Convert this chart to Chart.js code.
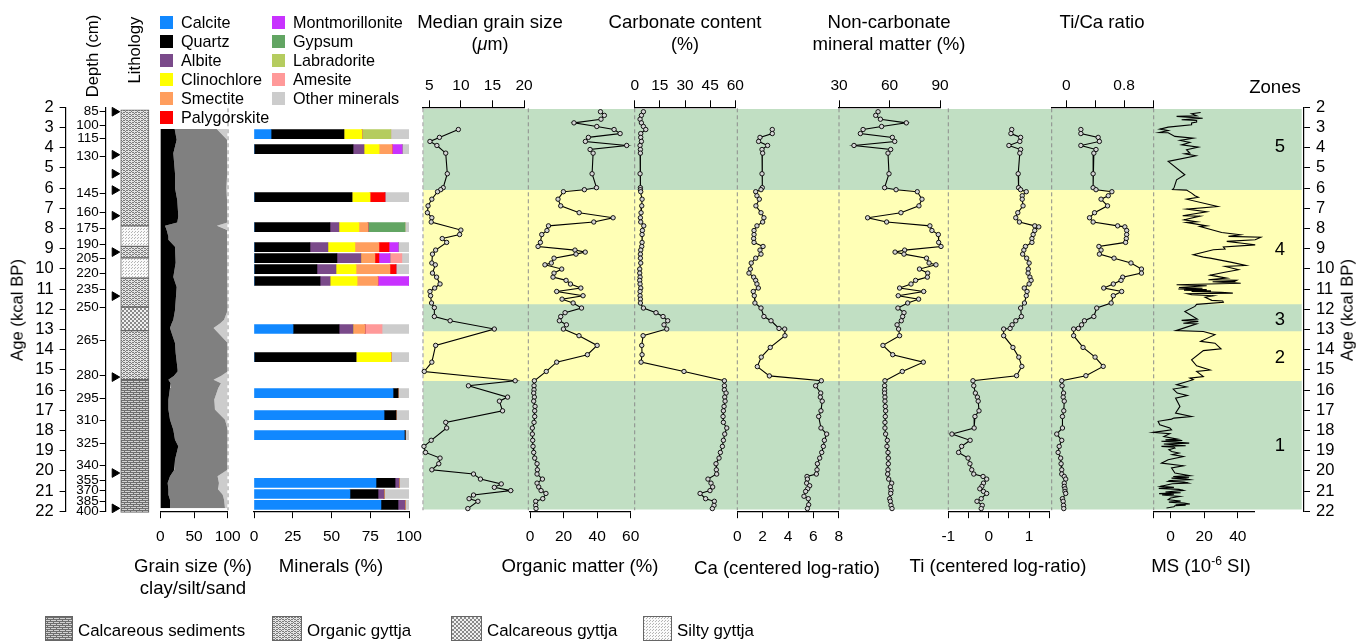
<!DOCTYPE html>
<html>
<head>
<meta charset="utf-8">
<title>Sediment core</title>
<script src="https://cdn.jsdelivr.net/npm/chart.js@4"></script>
<style>
  html, body { margin: 0; padding: 0; background: #fff; }
  #page { position: relative; width: 1365px; height: 642px; overflow: hidden; font-family: "Liberation Sans", sans-serif; color: #000; }
  canvas { position: absolute; left: 0; top: 0; }
  .t { position: absolute; white-space: nowrap; line-height: 1; }
  .t sup { font-size: 65%; line-height: 0; }
  .box { position: absolute; }
</style>
</head>
<body>
<div id="page"></div>
<script>
// ages in kcal BP, shared by several proxies
const coreAges = [2.22,2.40,2.59,2.77,2.95,3.10,3.30,3.49,3.69,3.89,
  4.09,4.27,5.29,5.98,6.08,6.18,6.55,6.88,7.22,7.47,
  7.68,7.87,8.10,8.30,8.69,8.89,9.07,9.17,9.27,9.47,
  9.71,9.80,10.01,10.21,10.41,10.57,10.75,10.95,11.12,11.33,
  11.50,11.69,11.94,12.17,12.36,12.57,12.77,12.98,13.31,13.79,
  14.25,14.62,15.08,15.54,15.79,15.99,16.15,16.35,16.55,16.81,
  17.03,17.31,17.60,17.88,18.18,18.49,18.79,19.09,19.37,19.65,
  19.95,20.16,20.41,20.61,20.80,20.98,21.12,21.38,21.51,21.71,21.87];

const medianAges = [3.10,3.49,3.69,3.89,4.27,5.29,5.98,6.08,6.18,6.55,
  6.88,7.22,7.47,7.68,8.08,8.30,8.50,8.69,9.07,9.27,
  9.71,9.80,10.21,10.41,10.75,10.95,11.12,11.33,11.69,11.92,
  12.36,12.57,12.98,13.79,14.62,15.08,15.54,15.79,16.35,16.55,
  17.03,17.60,17.88,18.49,18.79,19.09,19.37,19.65,19.95,20.16,
  20.41,20.65,20.82,20.98,21.2,21.38,21.51,21.87];
const medianGrain = [9.6,6.6,5.1,6.2,7.6,7.85,7.2,6.8,6.3,5.4,
  4.8,4.7,5.4,5.3,10.0,9.8,7.05,7.75,6.0,5.5,
  5.4,5.95,5.5,6.15,6.7,5.85,5.1,5.2,5.35,5.8,
  5.8,8.3,15.3,6.0,5.4,4.2,18.6,11.2,17.4,16.1,
  16.6,7.6,7.75,5.3,4.15,4.4,6.7,6.5,5.4,12.0,
  13.1,16.4,15.3,17.9,12,11.3,12.7,11.1];

const organicMatter = [42,44.3,42.3,26.2,39.8,50.1,53.7,34.8,33,57.6,
  35.8,37.6,37,39.6,32.4,19.9,16.7,18.3,29.3,49.5,
  38,11,10.1,7,6.2,4.8,26.8,32.9,27.4,14.3,
  12.7,8.9,18.9,14.3,13.7,21.5,24.1,30.3,15.9,31.6,
  19.1,25.7,30.7,20.9,18.3,17.5,21.7,19.9,29.2,40,
  34.2,15.9,9.7,2.6,2.4,2.4,2.2,2.6,2.2,3,
  2.8,2.8,2.4,1.4,1.4,1.6,1.8,2.2,2.8,4.2,
  4.4,4.2,7.4,4.2,5.2,6.6,9.5,7.6,3.4,3.4,3.6];

const nonCarbonate = [53.2,51.8,54.6,70,55.3,44.3,42.7,61.7,63.1,38.9,
  60.7,59.1,59.7,57.1,63.9,76.5,79.3,77.5,66.8,47,
  58.3,84,85.2,89,89.2,90.6,69,63.3,68.6,82,
  83.5,87.6,77.8,82.7,82.5,75.5,72.8,66,80.3,65.2,
  77.3,70.8,65,68.6,67.8,67,64.5,65.4,66,56.1,
  61.9,80.1,67.6,57.3,57.1,57.1,57.1,57.3,57.3,57.5,
  57.7,57.5,57.3,57.3,57.7,58.7,58.5,59.1,59.3,59.3,
  59.1,58.9,59.5,61.3,60.5,60.9,60.7,60.1,60.5,60.9,61.5];

const carbonateAges = [2.22,2.40,2.59,2.77,2.95,3.10,3.30,3.49,3.69,3.89,
  4.09,4.27,5.29,5.98,6.08,6.18,6.55,6.88,7.22,7.47,
  7.68,7.87,8.10,8.30,8.69,8.89,9.07,9.27,9.47,9.71,
  10.01,10.21,10.41,10.57,10.75,10.95,11.12,11.33,11.50,11.69,
  11.94,12.17,12.36,12.57,12.77,12.98,13.31,13.79,14.25,14.62,
  15.08,15.54,15.79,15.99,16.15,16.35,16.55,16.81,17.03,17.31,
  17.60,17.88,18.18,18.49,18.79,19.09,19.37,19.65,19.95,20.16,
  20.41,20.61,20.80,20.98,21.12,21.38,21.51,21.71,21.87];
const carbonate = [5.2,4,3.2,4,5.2,6.6,3.6,3.6,4,3.2,
  3.4,3.4,3.2,3.4,3.4,3.6,4.4,4.2,3.8,3.4,
  3.6,5.4,4.6,4.4,4.4,4.2,3.6,3.4,3.4,3.6,
  3,3,3.2,3,3.2,3.6,3.2,3.2,3.4,3.4,
  5.2,12.7,16.9,19.7,17.5,19.1,5,4.2,4.4,3.8,
  29.4,53.5,53.5,53.5,54.5,53.7,53.9,53.3,52.9,52.7,
  52.9,54.9,53.7,52.9,52.3,51.1,50.3,48.5,48.7,48.9,
  43.7,45.5,46.5,44.9,39,42.3,47.5,47.3,46.3];

const caAges = [3.10,3.30,3.49,3.69,3.89,4.09,4.27,5.29,5.98,6.08,
  6.18,6.38,6.55,6.88,7.22,7.47,7.68,7.87,8.10,8.30,
  8.50,8.69,8.89,9.07,9.27,9.47,9.71,10.01,10.21,10.41,
  10.57,10.75,10.95,11.12,11.33,11.69,11.94,12.36,12.57,12.95,
  12.98,13.31,13.89,14.37,14.84,15.30,15.54,15.79,16.15,16.35,
  16.55,17.03,17.31,17.88,18.18,18.49,18.79,19.09,19.37,19.65,
  19.95,20.16,20.28,20.41,20.61,20.74,20.89,21.02,21.26,21.38,
  21.68,21.87];
const caRatio = [2.76,2.76,1.79,1.68,2.39,1.95,2.0,1.95,1.97,1.87,
  1.45,1.55,1.74,1.47,1.87,2.1,2.0,1.55,1.32,1.32,
  1.29,1.32,2.03,1.79,1.87,1.45,1.1,1.03,0.92,1.29,
  1.45,1.55,1.66,1.26,1.34,1.39,1.87,2.1,2.66,3.29,
  3.74,3.76,2.6,1.89,1.58,2.53,6.63,6.18,6.58,6.55,
  6.7,6.6,6.42,6.6,7.05,6.87,6.79,6.66,6.5,6.32,
  6.29,6.24,5.5,5.53,5.47,5.71,5.55,5.39,5.26,5.6,
  5.63,5.53];

const tiAges = [3.10,3.30,3.49,3.69,3.89,4.09,4.27,5.29,5.98,6.08,
  6.18,6.38,6.55,6.88,7.22,7.47,7.68,7.87,7.92,8.10,
  8.30,8.50,8.69,8.89,9.07,9.27,9.47,9.71,10.01,10.21,
  10.41,10.57,10.75,10.95,11.12,11.33,11.69,11.94,12.36,12.57,
  12.77,12.95,12.98,13.31,13.89,14.37,14.83,15.29,15.54,15.79,
  16.15,16.35,16.55,17.03,17.31,17.88,18.18,18.49,18.79,19.09,
  19.37,19.65,19.95,20.16,20.28,20.41,20.61,20.77,20.89,21.02,
  21.12,21.38,21.51,21.71,21.87];
const tiRatio = [0.57,0.55,0.79,0.77,0.50,0.79,0.77,0.73,0.74,0.79,
  0.93,0.83,0.83,0.85,0.72,0.67,0.76,1.14,1.24,1.14,
  1.10,1.07,1.07,0.91,0.87,0.84,0.94,1.0,0.98,0.975,
  1.02,1.05,1.0,0.88,0.95,0.93,0.885,0.79,0.81,0.67,
  0.58,0.53,0.37,0.37,0.6,0.745,0.82,0.69,-0.39,-0.37,
  -0.33,-0.28,-0.26,-0.24,-0.34,-0.36,-0.91,-0.46,-0.67,-0.745,
  -0.51,-0.465,-0.42,-0.37,-0.14,-0.05,-0.13,-0.17,-0.22,-0.13,
  -0.05,-0.185,-0.29,-0.16,-0.185];
const tiCaRatio = [0.2,0.2,0.44,0.457,0.2,0.41,0.38,0.37,0.37,0.41,
  0.63,0.58,0.48,0.57,0.39,0.32,0.37,0.71,0.81,0.835,
  0.835,0.83,0.82,0.45,0.48,0.457,0.66,0.895,1.04,1.04,
  0.78,0.757,0.65,0.517,0.766,0.65,0.62,0.42,0.38,0.25,
  0.21,0.166,0.10,0.10,0.23,0.397,0.51,0.27,-0.065,-0.06,
  -0.04,-0.045,-0.03,-0.037,-0.055,-0.055,-0.134,-0.065,-0.1,-0.115,
  -0.08,-0.074,-0.065,-0.065,-0.03,-0.01,-0.03,-0.03,-0.02,-0.02,
  -0.01,-0.055,-0.045,-0.04,-0.037];

const msAges = [2.26,2.32,2.42,2.45,2.54,2.62,2.65,2.73,2.78,2.87,
  2.98,3.08,3.15,3.25,3.26,3.44,3.53,3.64,3.74,3.86,
  3.97,4.10,4.27,4.30,4.40,4.68,5.34,5.59,6.00,6.07,
  6.10,6.25,6.38,6.45,6.55,6.91,7.04,7.17,7.37,7.39,
  7.57,7.67,7.70,7.87,7.90,8.20,8.31,8.39,8.43,8.56,
  8.64,8.72,8.81,8.92,9.02,9.05,9.30,9.42,9.47,9.68,
  9.83,9.88,10.04,10.18,10.31,10.46,10.54,10.56,10.62,10.64,10.67,10.69,10.71,
  10.79,10.84,10.92,10.96,11.0,11.03,11.06,11.09,11.12,11.16,11.2,11.23,11.28,11.33,11.40,11.56,
  11.59,11.66,11.76,11.86,12.11,12.49,12.55,12.60,12.69,12.72,
  13.06,13.10,13.26,13.59,13.68,13.96,14.05,14.5,14.8,15.01,
  15.08,15.33,15.41,15.49,15.74,15.85,15.95,16.15,16.27,16.4,
  16.81,17.14,17.31,17.39,17.44,17.55,17.72,17.88,17.97,18.1,
  18.16,18.3,18.43,18.47,18.5,18.54,18.58,18.63,18.67,18.72,18.76,18.79,18.83,18.87,18.95,19.04,19.12,19.2,19.29,19.45,
  19.62,19.75,19.86,20.11,20.24,20.28,20.32,20.36,20.40,20.44,20.48,20.52,20.56,20.61,20.64,20.77,
  20.82,20.87,20.92,20.97,21.05,21.09,21.13,21.16,21.2,21.27,21.35,21.43,21.5,21.55,21.6,21.64,21.68,21.7,21.73,21.78,21.84];
const magSusc = [17.9,12.5,15.5,3.6,19.1,6.6,15.5,15.5,12.5,12.5,
  -1.4,-6.4,-1.4,-6.8,-1.4,2.6,13.5,5.6,11.5,6.6,
  16.5,9.5,11.5,8.5,15.1,-1.4,8.5,3.6,2,1.2,
  9.5,12.5,14.5,16.5,9.5,28,9.5,21.5,7.2,17.5,
  8,15.5,9.5,21.5,17.5,30.4,41.4,34.4,53.7,50.3,
  33.4,41.4,50.3,31.4,32.4,25.4,13.5,19.5,23.5,36.4,
  44.7,32.4,40.4,31.4,23.5,33.4,22.5,39.4,38,25,31.4,38,41.7,
  3.6,21.5,5,19,4.6,21.5,8,24,12.5,30,37,10,12.5,25.4,20.5,24.5,
  31,31.4,15.5,14.5,8.5,15.9,6.6,16.5,7.6,15.5,
  3.2,19.5,26.4,17.9,26.4,30,19.5,12.5,15.5,23.5,
  15.5,19.5,11.5,13.5,3.6,9.5,1.6,4,10,3,
  5.6,3,12.5,2,0.6,-7.4,-6.4,-0.4,0.6,-10.3,
  -0.4,-4,4,-3,7,-5.4,3,11.1,-4,3,9,-5.4,2,2.6,-1,0.6,5,1,7.6,-1.4,
  -5.4,7.6,0.6,2.6,11.5,1.6,11,0.6,9,11.5,0,-1.4,8,10.5,1,-6,
  2,-7,5,7.6,-3,6,-6.8,2,-5,5.6,0,-1.4,6,-1,8,11.5,3,9,2.6,2,-2.4];

// grain size, stacked clay/silt/sand
const grainAges = [3.08,3.61,4.27,5.26,6.0,6.6,7.4,7.7,7.87,8.07,8.4,8.56,8.9,9.7,10.4,10.9,12.05,12.52,12.69,12.93,13.18,13.67,14.17,15.0,15.08,15.3,15.49,15.66,15.9,16.48,16.97,17.47,17.97,18.46,18.79,19.45,19.95,20.27,20.6,20.93,21.18,21.43,21.85];
const clay = [21.3,24.3,19.3,21.8,21.8,25.2,26.7,25.2,7,9.4,12,12,21.8,22.8,19.3,24.3,21.8,19.3,17,14.4,16.8,21.8,22.8,25.7,25.7,20,12,15.3,14.4,12,12,14.4,19.3,21.8,26.7,21.8,20.8,14.4,10.9,12,12,14.4,14.4];
const silt = [62.4,74.7,80.2,77.2,76.2,73.8,73.3,73.8,77,89.6,88,88,78.2,77.2,80.7,75.7,78.2,75.3,72,64.6,69.2,78.2,77.2,74.3,73.3,70,67,74.7,71.6,68,69,81.6,80.7,78.2,73.3,77.2,78.2,70.6,76.1,74,80.6,80.2,81.6];
const sand = [16.3,1,0.5,1,2,1,0,1,16,1,0,0,0,0,0,0,0,5.4,11,21,14,0,0,0,1,10,21,10,14,20,19,4,0,0,0,1,1,15,13,14,7.4,5.4,4];

// mineral composition of the XRD samples
const mineralAges = [3.33,4.07,6.45,7.93,8.92,9.47,10.01,10.6,12.98,14.37,16.15,17.24,18.23,20.6,21.15,21.69];
const calcite =         [11,0,0,0,0,0,0,0,25.2,0,89.7,83.9,97,78.7,61.9,81.9];
const quartz =          [47,63.9,63.2,49,36.1,53.5,40.6,42.6,29.7,65.8,3.2,7.7,0.6,12.3,18.1,11];
const albite =          [0,7.1,0,5.8,11.6,15.5,12.3,6.5,9,0,0,0,0,2.6,3.9,4.5];
const clinochlore =     [11.6,9.7,11.6,12.9,17.4,0,12.9,17.4,0,22.6,0,0,0,0,0,0];
const smectite =        [0,8.4,0,5.8,15.5,9,21.9,13.5,7.7,0,0,0,0,0,0,0];
const palygorskite =    [0,0,9.7,0,6.5,2.6,3.9,0,0,0,0,0,0,0,0,0];
const montmorillonite = [0,6.5,0,0,6,7.1,0,20,0,0,0,0,0,0,0,0];
const gypsum =          [0,0,0,23.9,0,0,0,0,0,0,0,0,0,0,0,0];
const labradorite =     [18.7,0,0,0,0,0,0,0,0,0,0,0,0,0,0,0];
const amesite =         [0,0,0,0,0,7.7,0,0,11,0,0,0,0,0,0,0];
const otherMinerals =   [11.6,4.4,15.5,2.6,7.1,4.6,8.4,0,17.4,11.6,7.1,8.4,2.4,6.4,16.1,2.6];

const zoneNames = ['5','4','3','2','1'];
const zoneBounds = [[2.1,6.08],[6.08,11.74],[11.74,13.07],[13.07,15.54],[15.54,21.9]];
const zoneLabelAges = [3.95,9.05,12.55,14.4,18.75];

const ageTicks = [2,3,4,5,6,7,8,9,10,11,12,13,14,15,16,17,18,19,20,21,22];
const depthLabels = [85,100,115,130,145,160,175,190,205,220,235,250,265,280,295,310,325,340,355,370,385,400];
const depthAges = [2.22,2.88,3.56,4.43,6.25,7.19,8.01,8.77,9.47,10.21,11,11.9,13.56,15.28,16.43,17.52,18.66,19.73,20.46,20.97,21.51,22.01];
const datedAges = [2.22,4.35,5.29,6.1,7.37,9.17,11.35,15.36,20.11,21.86];

// lithology units: [from, to] in age
const organicUnits = [[2.12,7.87],[8.89,9.46],[10.46,11.89],[13.06,15.49]];
const siltyUnits = [[7.87,8.89],[9.46,10.46]];
const calcGyttjaUnits = [[11.89,13.06]];
const calcSedUnits = [[15.49,22.06]];

const PAGE_W = 1365, PAGE_H = 642, AGE_TOP = 107.3, AGE_BOTTOM = 511.2;
const FONT = '"Liberation Sans", sans-serif';
const page = document.getElementById('page');

Chart.defaults.font.family = FONT;
Chart.defaults.color = '#000';
Chart.defaults.animation = false;
Chart.defaults.events = [];
Chart.defaults.plugins.legend.display = false;
Chart.defaults.plugins.tooltip.enabled = false;

function text(html, x, y, size, rot) {
  const el = document.createElement('div');
  el.className = 't';
  el.innerHTML = html;
  el.style.left = x + 'px';
  el.style.top = y + 'px';
  el.style.fontSize = size + 'px';
  el.style.transform = 'translate(-50%,-50%)' + (rot ? ' rotate(' + rot + 'deg)' : '');
  page.appendChild(el);
}

function textLeft(html, x, y, size) {
  text(html, x, y, size);
  page.lastChild.style.transform = 'translateY(-50%)';
}

function box(x, y, w, h, fill, border) {
  const el = document.createElement('div');
  el.className = 'box';
  el.style.cssText = 'left:' + x + 'px;top:' + y + 'px;width:' + w + 'px;height:' + h + 'px;background:' + fill + ';' + (border ? 'border:1px solid ' + border + ';box-sizing:border-box;' : '');
  page.appendChild(el);
  return el;
}

// every panel is a page sized canvas, its plot area set through the layout padding
function panel(left, right, config) {
  const canvas = document.createElement('canvas');
  canvas.width = PAGE_W;
  canvas.height = PAGE_H;
  canvas.style.width = PAGE_W + 'px';
  canvas.style.height = PAGE_H + 'px';
  page.appendChild(canvas);
  config.options = Object.assign({
    responsive: false,
    devicePixelRatio: 1,
    layout: { padding: { left: left, right: PAGE_W - right, top: AGE_TOP, bottom: PAGE_H - AGE_BOTTOM } }
  }, config.options);
  return new Chart(canvas, config);
}

function hiddenAge() {
  return { type: 'linear', reverse: true, min: 2, max: 22, display: false };
}

function hiddenX(min, max) {
  return { type: 'linear', min: min, max: max, display: false };
}

function axisBase(size, padding, tickLength) {
  return {
    border: { color: '#000', width: 1.2 },
    grid: { drawOnChartArea: false, drawTicks: true, tickLength: tickLength, tickColor: '#000', tickWidth: 1 },
    ticks: { autoSkip: false, maxRotation: 0, padding: padding, font: { size: size }, color: '#000' }
  };
}

// axes take no room in the layout, and their labels must not be clipped to that empty box
function flatten(s, dim) {
  s[dim] = 0;
  s._computeLabelArea = () => null;
}

function valueAxis(position, min, max, tickValues, labelValues) {
  const a = axisBase(15.5, position === 'top' ? 5 : 9, 7);
  a.type = 'linear';
  a.position = position;
  a.min = min;
  a.max = max;
  a.afterBuildTicks = function (s) { s.ticks = tickValues.map(v => ({ value: v })); };
  a.afterFit = function (s) { flatten(s, 'height'); };
  a.ticks.callback = v => labelValues.includes(v) ? String(v) : '';
  return a;
}

function ageAxis(position, tickValues, labelFn, size, padding) {
  const a = axisBase(size, padding, 6);
  a.type = 'linear';
  a.reverse = true;
  a.position = position;
  a.min = 2;
  a.max = 22;
  a.afterBuildTicks = function (s) { s.ticks = tickValues.map(v => ({ value: v })); };
  a.afterFit = function (s) { flatten(s, 'width'); };
  a.ticks.callback = labelFn;
  return a;
}

function series(ages, values) {
  return values.map((v, i) => ({ x: v, y: ages[i] }));
}

function proxyPanel(left, right, ages, values, xAxis, markers) {
  return panel(left, right, {
    type: 'scatter',
    data: { datasets: [{
      data: series(ages, values),
      showLine: true,
      clip: false,
      borderColor: '#000',
      borderWidth: 1.1,
      tension: 0,
      pointRadius: markers ? 2.2 : 0,
      pointBackgroundColor: '#d4d4d4',
      pointBorderColor: '#000',
      pointBorderWidth: 0.9
    }] },
    options: { scales: { x: xAxis, y: hiddenAge() } }
  });
}

// hatch fills for the lithology column
function tile(w, h, bg, draw) {
  const c = document.createElement('canvas');
  c.width = w;
  c.height = h;
  const g = c.getContext('2d');
  g.fillStyle = bg;
  g.fillRect(0, 0, w, h);
  draw(g);
  return c;
}
const calcSedTile = tile(6, 4, '#d2d2d2', g => {
  g.fillStyle = '#6e6e6e';
  g.fillRect(0, 0, 6, 1);
  g.fillRect(0, 2, 6, 1);
  g.fillRect(1, 1, 1, 1);
  g.fillRect(4, 3, 1, 1);
});
const organicTile = tile(6, 4, '#e4e4e4', g => {
  g.fillStyle = '#7c7c7c';
  g.fillRect(0, 0, 2, 1); g.fillRect(2, 1, 1, 1); g.fillRect(3, 0, 2, 1);
  g.fillRect(3, 2, 2, 1); g.fillRect(5, 3, 1, 1); g.fillRect(0, 2, 2, 1);
});
const calcGyttjaTile = tile(4, 4, '#f0f0f0', g => {
  g.fillStyle = '#8a8a8a';
  g.fillRect(0, 0, 2, 2);
  g.fillRect(2, 2, 2, 2);
});
const siltyTile = tile(3, 3, '#fafafa', g => {
  g.fillStyle = '#b4b4b4';
  g.fillRect(0, 0, 1, 1);
  g.fillRect(2, 1, 1, 1);
});
const patternCtx = document.createElement('canvas').getContext('2d');
const patternOf = t => patternCtx.createPattern(t, 'repeat');

// zone bands, dashed panel edges and zone numbers
const panelEdges = [228, 423, 528.3, 634.7, 737.3, 839, 948.3, 1051.7, 1153.7];
const zoneDecor = {
  id: 'zoneDecor',
  afterDatasetsDraw(chart) {
    const ctx = chart.ctx, y = chart.scales.y;
    ctx.save();
    ctx.setLineDash([4, 3]);
    panelEdges.forEach((x, i) => {
      ctx.strokeStyle = i < 2 ? '#b8b8b8' : '#8c8c8c';
      ctx.lineWidth = i < 2 ? 1.6 : 1;
      ctx.beginPath();
      ctx.moveTo(x, y.getPixelForValue(2.05));
      ctx.lineTo(x, y.getPixelForValue(21.95));
      ctx.stroke();
    });
    ctx.setLineDash([]);
    ctx.fillStyle = '#000';
    ctx.font = '18.5px ' + FONT;
    ctx.textAlign = 'center';
    ctx.textBaseline = 'middle';
    zoneNames.forEach((n, i) => ctx.fillText(n, 1280, y.getPixelForValue(zoneLabelAges[i])));
    ctx.restore();
  }
};
const zoneColors = ['#c1dfc3', '#ffffb6', '#c1dfc3', '#ffffb6', '#c1dfc3'];
panel(423, 1301.7, {
  type: 'bar',
  data: { labels: [''], datasets: zoneBounds.map((b, i) => ({
    data: [b], backgroundColor: zoneColors[i], grouped: false, barPercentage: 1, categoryPercentage: 1
  })) },
  options: { scales: { x: { type: 'category', display: false }, y: hiddenAge() } },
  plugins: [zoneDecor]
});

// age axes on both sides, depth axis with its dated levels
panel(65.6, 66.6, {
  type: 'scatter', data: { datasets: [] },
  options: { scales: { x: hiddenX(0, 1), y: ageAxis('left', ageTicks, v => String(v), 16.5, 6) } }
});
panel(1303, 1304, {
  type: 'scatter', data: { datasets: [] },
  options: { scales: { x: hiddenX(0, 1), y: ageAxis('right', ageTicks, v => String(v), 16.5, 6) } }
});
panel(105.7, 123.7, {
  type: 'scatter',
  data: { datasets: [{
    data: datedAges.map(a => ({ x: 0.5, y: a })),
    pointStyle: 'triangle', rotation: 90, pointRadius: 5,
    backgroundColor: '#000', borderColor: '#000', clip: false
  }] },
  options: { scales: {
    x: hiddenX(0, 1),
    y: ageAxis('left', depthAges, (v, i) => String(depthLabels[i]), 13.4, 1)
  } }
});

// lithology column
const lithology = [
  [organicUnits, organicTile], [siltyUnits, siltyTile],
  [calcGyttjaUnits, calcGyttjaTile], [calcSedUnits, calcSedTile]
];
const lithoSets = [];
lithology.forEach(([units, t]) => units.forEach(u => lithoSets.push({
  data: [u], backgroundColor: patternOf(t), borderColor: '#666', borderWidth: 1,
  borderSkipped: false, grouped: false, barPercentage: 1, categoryPercentage: 1, clip: false
})));
panel(120.7, 149, {
  type: 'bar',
  data: { labels: [''], datasets: lithoSets },
  options: { scales: { x: { type: 'category', display: false }, y: hiddenAge() } }
});

// grain size stack
panel(160.3, 227.7, {
  type: 'line',
  data: { datasets: [
    { data: series(grainAges, clay), backgroundColor: '#000', fill: 'origin', pointRadius: 0, borderWidth: 0, clip: false },
    { data: series(grainAges, silt), backgroundColor: '#808080', fill: '-1', pointRadius: 0, borderWidth: 0, clip: false },
    { data: series(grainAges, sand), backgroundColor: '#cccccc', fill: '-1', pointRadius: 0, borderWidth: 0, clip: false }
  ] },
  options: {
    indexAxis: 'y',
    scales: {
      x: Object.assign(valueAxis('bottom', 0, 100, [0, 50, 100], [0, 50, 100]), { stacked: true }),
      y: Object.assign(hiddenAge(), { stacked: false })
    }
  }
});

// mineral bars
const mineralSets = [
  [calcite, '#1188ff'], [quartz, '#000000'], [albite, '#7a4a8a'], [clinochlore, '#ffff00'],
  [smectite, '#ff9e5e'], [palygorskite, '#ff0000'], [montmorillonite, '#c832ff'],
  [gypsum, '#62a563'], [labradorite, '#b5cc5f'], [amesite, '#ff9999'], [otherMinerals, '#cccccc']
];
panel(254, 409, {
  type: 'bar',
  data: { datasets: mineralSets.map(([vals, col]) => ({
    data: series(mineralAges, vals), backgroundColor: col, barThickness: 9
  })) },
  options: {
    indexAxis: 'y',
    scales: {
      x: Object.assign(valueAxis('bottom', 0, 100, [0, 25, 50, 75, 100], [0, 25, 50, 75, 100]), { stacked: true }),
      y: Object.assign(hiddenAge(), { stacked: true, offset: false })
    }
  }
});

// proxy curves
proxyPanel(423, 524, medianAges, medianGrain, valueAxis('top', 4, 20, [5, 10, 15, 20], [5, 10, 15, 20]), true);
proxyPanel(530, 630.7, coreAges, organicMatter, valueAxis('bottom', 0, 60, [0, 20, 40, 60], [0, 20, 40, 60]), true);
proxyPanel(634.7, 735.3, carbonateAges, carbonate, valueAxis('top', 0, 60, [0, 15, 30, 45, 60], [0, 15, 30, 45, 60]), true);
proxyPanel(737.3, 838.7, caAges, caRatio, valueAxis('bottom', 0, 8, [0, 2, 4, 6, 8], [0, 2, 4, 6, 8]), true);
proxyPanel(839, 940, coreAges, nonCarbonate, valueAxis('top', 30, 90, [30, 60, 90], [30, 60, 90]), true);
proxyPanel(948.3, 1049.3, tiAges, tiRatio, valueAxis('bottom', -1, 1.5, [-1, -0.5, 0, 0.5, 1, 1.5], [-1, 0, 1]), true);
proxyPanel(1052, 1153, tiAges, tiCaRatio, valueAxis('top', -0.2, 1.2, [0, 0.4, 0.8, 1.2], [0, 0.8]), true);
proxyPanel(1153.7, 1254.7, msAges, magSusc, valueAxis('bottom', -10, 50, [-10, 0, 20, 40], [0, 20, 40]), false);

// titles and labels
text('Depth (cm)', 93, 56, 16.7, -90);
text('Lithology', 135, 50, 16.7, -90);
text('Age (kcal BP)', 18, 310, 16.7, -90);
text('Age (kcal BP)', 1348, 310, 16.7, -90);
text('Median grain size', 490, 22, 18.6);
text('(<i>μ</i>m)', 490, 44, 18);
text('Carbonate content', 685, 22, 18.6);
text('(%)', 685, 44, 18);
text('Non-carbonate', 889, 22, 18.6);
text('mineral matter (%)', 889, 44, 18.6);
text('Ti/Ca ratio', 1102, 22, 18.6);
text('Zones', 1275, 87, 18.6);
text('Grain size (%)', 193, 566, 18.6);
text('clay/silt/sand', 193, 588, 18.6);
text('Minerals (%)', 331, 566, 18.6);
text('Organic matter (%)', 580, 566, 18.6);
text('Ca (centered log-ratio)', 787, 568, 18.6);
text('Ti (centered log-ratio)', 998, 566, 18.6);
text('MS (10<sup>-6</sup> SI)', 1201, 566, 18.6);

// mineral legend
const legendNames = ['Calcite','Quartz','Albite','Clinochlore','Smectite','Palygorskite','Montmorillonite','Gypsum','Labradorite','Amesite','Other minerals'];
const legendColors = ['#1188ff','#000000','#7a4a8a','#ffff00','#ff9e5e','#ff0000','#c832ff','#62a563','#b5cc5f','#ff9999','#cccccc'];
legendNames.forEach((name, i) => {
  const col = i < 6 ? 0 : 1, row = col ? i - 6 : i;
  const x = col ? 272 : 160, y = 16 + row * 19;
  box(x, y, 13, 13, legendColors[i]);
  textLeft(name, x + 21, y + 5.5, 16.2);
});

// lithology legend
[['Calcareous sediments', 45, 28, 78, calcSedTile],
 ['Organic gyttja', 272, 30, 307, organicTile],
 ['Calcareous gyttja', 451, 31, 487, calcGyttjaTile],
 ['Silty gyttja', 643, 29, 677, siltyTile]].forEach(([name, x, w, tx, t]) => {
  box(x, 616, w, 25, 'url(' + t.toDataURL() + ')', '#666');
  textLeft(name, tx, 630.5, 16.9);
});
</script>
</body>
</html>
